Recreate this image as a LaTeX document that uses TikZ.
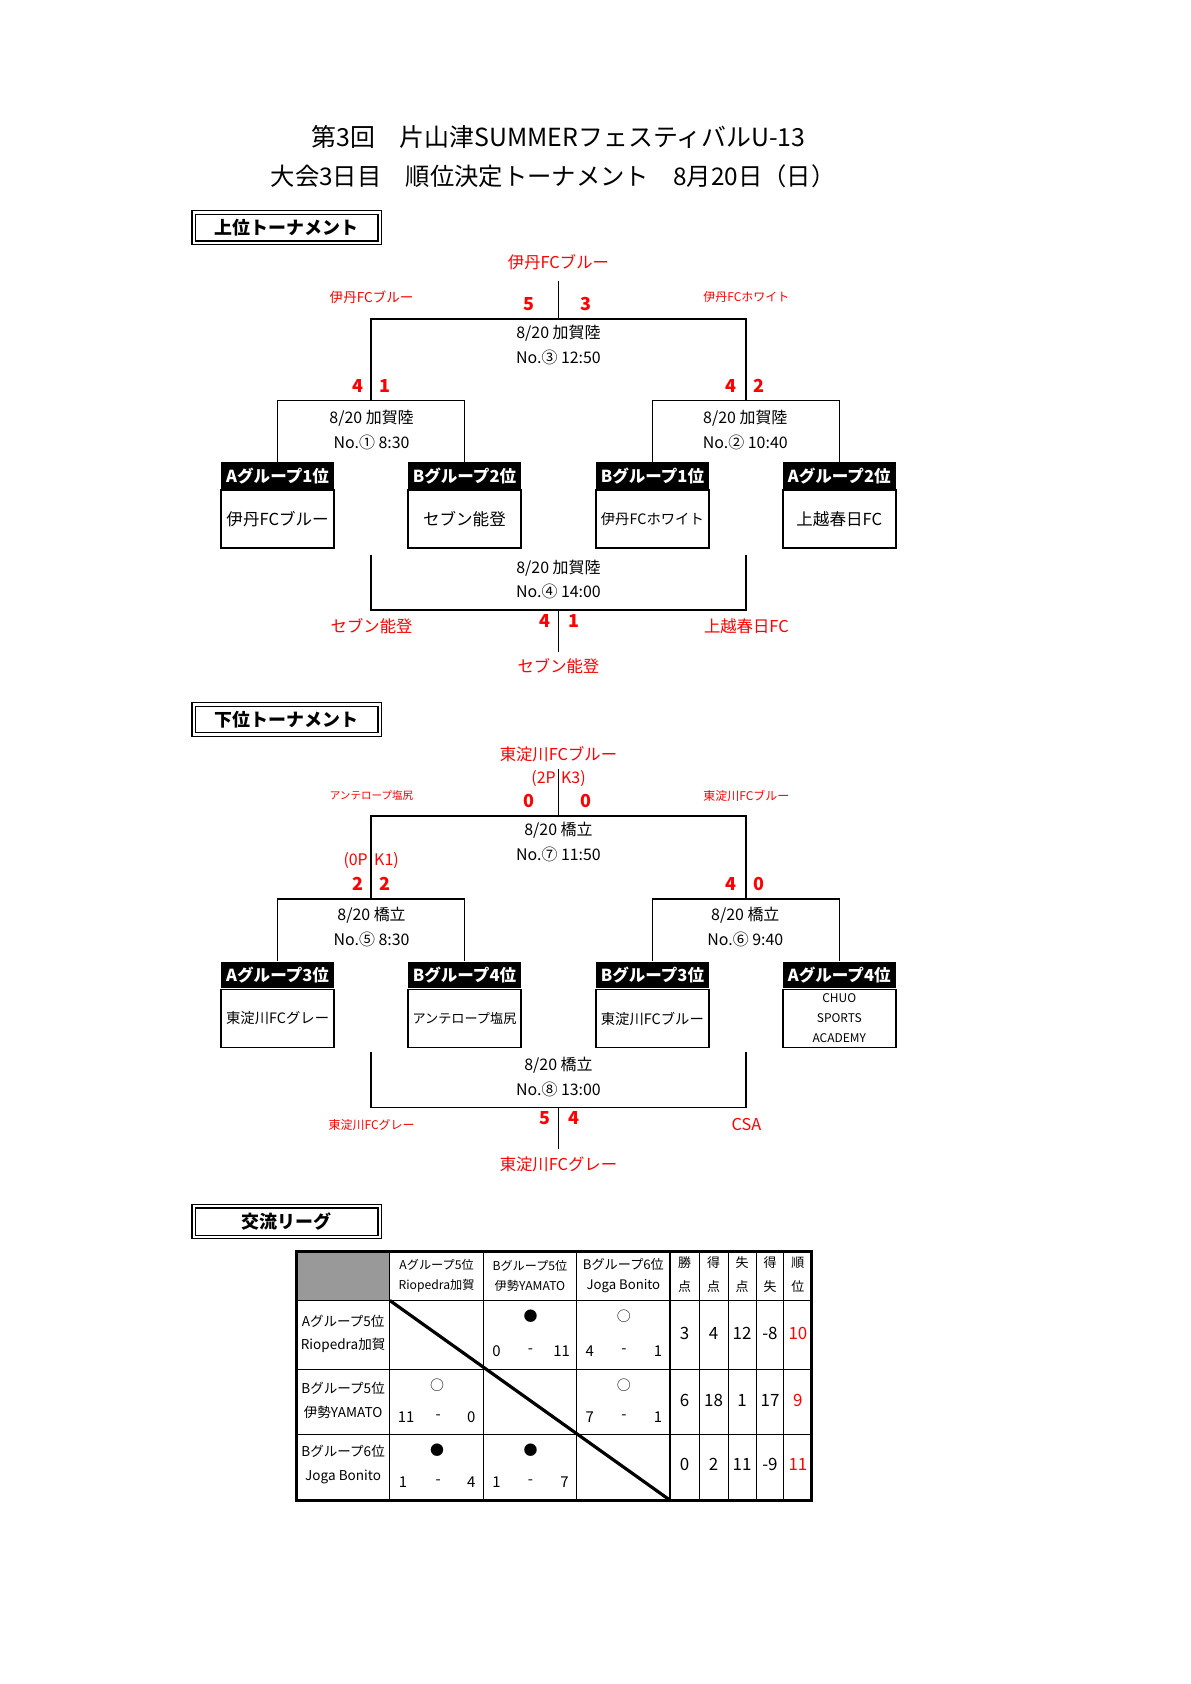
\documentclass[tikz,border=0pt]{standalone}
\usepackage{fontspec}
\setmainfont{Noto Sans CJK JP}
\usetikzlibrary{positioning}

\tikzset{
  bracket/.style={line width=0.7pt},
  info/.style={align=center, font=\fontsize{8}{12.4}\selectfont},
  winner/.style={text=red, font=\fontsize{8.2}{10}\selectfont},
  side/.style={text=red, font=\fontsize{6.3}{8}\selectfont},
  score/.style={text=red, font=\bfseries\fontsize{9}{10}\selectfont},
  pk/.style={text=red, font=\fontsize{8}{10}\selectfont, inner sep=0.6pt},
  grouphead/.style={fill=black, text=white, font=\bfseries\fontsize{8.3}{10}\selectfont,
    minimum width=1.99cm, minimum height=0.473cm, inner sep=0pt, anchor=north},
  teambody/.style={draw, line width=0.8pt, minimum width=1.99cm, minimum height=1.02cm,
    inner sep=0pt, align=center, font=\fontsize{8.3}{10}\selectfont},
  titlebox/.style={draw, double, double distance=1.2pt, line width=0.6pt,
    minimum width=3.28cm, minimum height=0.52cm, font=\bfseries\fontsize{9}{10}\selectfont},
  cell/.style={align=center, inner sep=0pt, font=\fontsize{6}{10.3}\selectfont},
  num/.style={inner sep=0pt, font=\fontsize{7.5}{9}\selectfont},
  stat/.style={inner sep=0pt, font=\fontsize{8.5}{10}\selectfont},
  wlmark/.style={inner sep=0pt, font=\fontsize{7}{9}\selectfont},
}

\begin{document}
\begin{tikzpicture}[x=0.01894cm, y=-0.01894cm]
\useasboundingbox (0,0) rectangle (1108.8,1568.1);

% title
\node[font=\fontsize{12.5}{19.5}\selectfont] (title1) at (520,128) {第3回　片山津SUMMERフェスティバルU-13};
\node[font=\fontsize{12.2}{19.5}\selectfont] (title2) at (515,164) {大会3日目　順位決定トーナメント　8月20日（日）};

% ---------------- upper tournament
\node[titlebox] (upper) at (267,212) {上位トーナメント};

\node[grouphead] (a1h) at (258.5,430) {Aグループ1位};
\node[teambody, below=0pt of a1h] (a1) {伊丹FCブルー};
\node[grouphead] (b2h) at (432.5,430) {Bグループ2位};
\node[teambody, below=0pt of b2h] (b2) {セブン能登};
\node[grouphead] (b1h) at (607.5,430) {Bグループ1位};
\node[teambody, below=0pt of b1h, font=\fontsize{7.2}{10}\selectfont] (b1) {伊丹FCホワイト};
\node[grouphead] (a2h) at (781.5,430) {Aグループ2位};
\node[teambody, below=0pt of a2h] (a2) {上越春日FC};

\coordinate (m1) at (345.5,373);
\coordinate (m2) at (694.5,373);
\coordinate (m3) at (520,297);
\coordinate (m3top) at (520,262);
\draw[bracket] (a1h.north) |- (m1) -| (b2h.north);
\draw[bracket] (b1h.north) |- (m2) -| (a2h.north);
\draw[bracket] (m1) |- (m3) -| (m2);
\draw[bracket] (m3) -- (m3top);

\coordinate (t1) at (345.5,517);
\coordinate (t2) at (694.5,517);
\coordinate (m4) at (520,568);
\coordinate (m4bot) at (520,607);
\draw[bracket] (t1) |- (m4) -| (t2);
\draw[bracket] (m4) -- (m4bot);

\node[info] (info1) at (346,400.5) {8/20 加賀陸\\No.① 8:30};
\node[info] (info2) at (694,400.5) {8/20 加賀陸\\No.② 10:40};
\node[info] (info3) at (520,321.5) {8/20 加賀陸\\No.③ 12:50};
\node[info] (info4) at (520,539.5) {8/20 加賀陸\\No.④ 14:00};

\node[score] (s1a) at (333,359) {4};
\node[score] (s1b) at (358,359) {1};
\node[score] (s2a) at (681,359) {4};
\node[score] (s2b) at (707,359) {2};
\node[score] (s3a) at (493,283) {5};
\node[score] (s3b) at (546,283) {3};
\node[score] (s4a) at (507,578) {4};
\node[score] (s4b) at (534,578) {1};

\node[winner] (w3) at (520,244) {伊丹FCブルー};
\node[side, font=\fontsize{6.8}{8}\selectfont] (w3l) at (346,277) {伊丹FCブルー};
\node[side, font=\fontsize{6}{8}\selectfont] (w3r) at (695,277) {伊丹FCホワイト};
\node[winner] (w4l) at (346,583) {セブン能登};
\node[winner] (w4r) at (695,583) {上越春日FC};
\node[winner] (w4) at (520,620) {セブン能登};

% ---------------- lower tournament
\node[titlebox] (lower) at (267,670) {下位トーナメント};

\node[grouphead] (a3h) at (258.5,895) {Aグループ3位};
\node[teambody, below=0pt of a3h, font=\fontsize{7.2}{10}\selectfont] (a3) {東淀川FCグレー};
\node[grouphead] (b4h) at (432.5,895) {Bグループ4位};
\node[teambody, below=0pt of b4h, font=\fontsize{6.6}{10}\selectfont] (b4) {アンテロープ塩尻};
\node[grouphead] (b3h) at (607.5,895) {Bグループ3位};
\node[teambody, below=0pt of b3h, font=\fontsize{7.2}{10}\selectfont] (b3) {東淀川FCブルー};
\node[grouphead] (a4h) at (781.5,895) {Aグループ4位};
\node[teambody, below=0pt of a4h, font=\fontsize{6}{10}\selectfont] (a4) {CHUO\\SPORTS\\ACADEMY};

\coordinate (m5) at (345.5,837);
\coordinate (m6) at (694.5,837);
\coordinate (m7) at (520,760);
\coordinate (m7top) at (520,716);
\draw[bracket] (a3h.north) |- (m5) -| (b4h.north);
\draw[bracket] (b3h.north) |- (m6) -| (a4h.north);
\draw[bracket] (m5) |- (m7) -| (m6);
\draw[bracket] (m7) -- (m7top);

\coordinate (t5) at (345.5,980);
\coordinate (t6) at (694.5,980);
\coordinate (m8) at (520,1031);
\coordinate (m8bot) at (520,1070);
\draw[bracket] (t5) |- (m8) -| (t6);
\draw[bracket] (m8) -- (m8bot);

\node[info] (info5) at (346,863.5) {8/20 橋立\\No.⑤ 8:30};
\node[info] (info6) at (694,863.5) {8/20 橋立\\No.⑥ 9:40};
\node[info] (info7) at (520,784) {8/20 橋立\\No.⑦ 11:50};
\node[info] (info8) at (520,1003) {8/20 橋立\\No.⑧ 13:00};

\node[pk, anchor=east] (pk5a) at (344,801) {(0P};
\node[pk, anchor=west] (pk5b) at (347,801) {K1)};
\node[pk, anchor=east] (pk7a) at (519,725) {(2P};
\node[pk, anchor=west] (pk7b) at (521,725) {K3)};

\node[score] (s5a) at (333,823) {2};
\node[score] (s5b) at (358,823) {2};
\node[score] (s6a) at (681,823) {4};
\node[score] (s6b) at (707,823) {0};
\node[score] (s7a) at (493,746) {0};
\node[score] (s7b) at (546,746) {0};
\node[score] (s8a) at (507,1041) {5};
\node[score] (s8b) at (534,1041) {4};

\node[winner] (w7) at (520,702) {東淀川FCブルー};
\node[side, font=\fontsize{5.3}{8}\selectfont] (w7l) at (346,741) {アンテロープ塩尻};
\node[side, font=\fontsize{6}{8}\selectfont] (w7r) at (695,741) {東淀川FCブルー};
\node[side, font=\fontsize{6}{8}\selectfont] (w8l) at (346,1048) {東淀川FCグレー};
\node[winner] (w8r) at (695,1047) {CSA};
\node[winner] (w8) at (520,1084) {東淀川FCグレー};

% ---------------- exchange league
\node[titlebox] (league) at (267,1137.5) {交流リーグ};

\fill[black!40] (276,1165) rectangle (363,1211);
\draw[line width=0.5pt] (363,1165) -- (363,1397);
\draw[line width=0.5pt] (450,1165) -- (450,1397);
\draw[line width=0.5pt] (537,1165) -- (537,1397);
\draw[line width=0.5pt] (651,1165) -- (651,1397);
\draw[line width=0.5pt] (678,1165) -- (678,1397);
\draw[line width=0.5pt] (704,1165) -- (704,1397);
\draw[line width=0.5pt] (730,1165) -- (730,1397);
\draw[line width=0.5pt] (276,1211) -- (756,1211);
\draw[line width=0.5pt] (276,1275) -- (756,1275);
\draw[line width=0.5pt] (276,1336) -- (756,1336);
\draw[line width=1.3pt] (624,1165) -- (624,1397);
\draw[line width=1.6pt] (363,1211) -- (624,1397);
\draw[line width=1.6pt] (276,1165) rectangle (756,1397);

% header row
\node[cell, font=\fontsize{6.1}{10.3}\selectfont] (h1) at (406.5,1188) {Aグループ5位\\Riopedra加賀};
\node[cell, font=\fontsize{6.1}{10.3}\selectfont] (h2) at (493.5,1188) {Bグループ5位\\伊勢YAMATO};
\node[cell, font=\fontsize{6.6}{10.3}\selectfont] (h3) at (580.5,1188) {Bグループ6位\\Joga Bonito};
\node[cell, font=\fontsize{6.5}{12}\selectfont] (h4) at (637.5,1187) {勝\\点};
\node[cell, font=\fontsize{6.5}{12}\selectfont] (h5) at (664.5,1187) {得\\点};
\node[cell, font=\fontsize{6.5}{12}\selectfont] (h6) at (691,1187) {失\\点};
\node[cell, font=\fontsize{6.5}{12}\selectfont] (h7) at (717,1187) {得\\失};
\node[cell, font=\fontsize{6.5}{12}\selectfont] (h8) at (743,1187) {順\\位};

% row heads
\node[cell, font=\fontsize{6.8}{11.9}\selectfont] (r1) at (319.5,1242) {Aグループ5位\\Riopedra加賀};
\node[cell, font=\fontsize{6.8}{11.9}\selectfont] (r2) at (319.5,1304) {Bグループ5位\\伊勢YAMATO};
\node[cell, font=\fontsize{6.8}{11.9}\selectfont] (r3) at (319.5,1364) {Bグループ6位\\Joga Bonito};

% results
\node[wlmark] (k12) at (494,1226) {●};
\node[num, anchor=west] (g12a) at (458,1258) {0};
\node[num] (g12d) at (494,1258) {-};
\node[num, anchor=east] (g12b) at (531,1258) {11};
\node[wlmark] (k13) at (581,1226) {○};
\node[num, anchor=west] (g13a) at (545,1258) {4};
\node[num] (g13d) at (581,1258) {-};
\node[num, anchor=east] (g13b) at (617,1258) {1};

\node[wlmark] (k21) at (407,1290) {○};
\node[num, anchor=west] (g21a) at (370,1320) {11};
\node[num] (g21d) at (408,1320) {-};
\node[num, anchor=east] (g21b) at (443,1320) {0};
\node[wlmark] (k23) at (581,1290) {○};
\node[num, anchor=west] (g23a) at (545,1320) {7};
\node[num] (g23d) at (581,1320) {-};
\node[num, anchor=east] (g23b) at (617,1320) {1};

\node[wlmark] (k31) at (407,1350) {●};
\node[num, anchor=west] (g31a) at (371,1380) {1};
\node[num] (g31d) at (408,1380) {-};
\node[num, anchor=east] (g31b) at (443,1380) {4};
\node[wlmark] (k32) at (494,1350) {●};
\node[num, anchor=west] (g32a) at (458,1380) {1};
\node[num] (g32d) at (494,1380) {-};
\node[num, anchor=east] (g32b) at (530,1380) {7};

% totals
\node[stat] (p1) at (637.5,1242) {3};
\node[stat] (f1) at (664.5,1242) {4};
\node[stat] (a1s) at (691,1242) {12};
\node[stat] (d1) at (717,1242) {-8};
\node[stat, text=red] (o1) at (743,1242) {10};
\node[stat] (p2) at (637.5,1304) {6};
\node[stat] (f2) at (664.5,1304) {18};
\node[stat] (a2s) at (691,1304) {1};
\node[stat] (d2) at (717,1304) {17};
\node[stat, text=red] (o2) at (743,1304) {9};
\node[stat] (p3) at (637.5,1364) {0};
\node[stat] (f3) at (664.5,1364) {2};
\node[stat] (a3s) at (691,1364) {11};
\node[stat] (d3) at (717,1364) {-9};
\node[stat, text=red] (o3) at (743,1364) {11};
\end{tikzpicture}
\end{document}
